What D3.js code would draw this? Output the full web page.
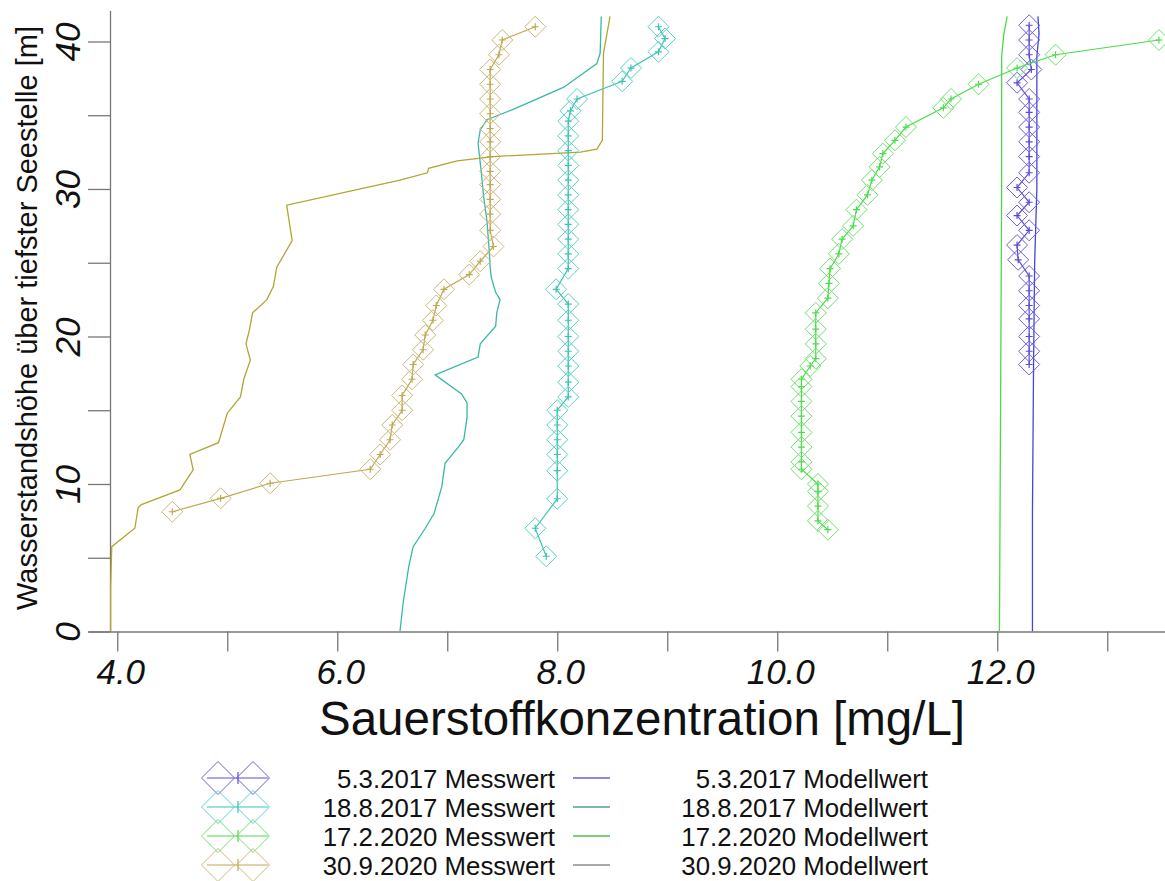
<!DOCTYPE html>
<html>
<head>
<meta charset="utf-8">
<script src="https://cdn.jsdelivr.net/npm/d3@7"></script>
<style>
  body { margin: 0; background: #fff; }
  text { font-family: "Liberation Sans", Arial, Helvetica, sans-serif; }
</style>
</head>
<body>
<svg id="chart" width="1165" height="881"></svg>
<script>
// ---- axis ticks ----
const xTicks = [4, 5, 6, 7, 8, 9, 10, 11, 12, 13];
const xTickLabels = ["4.0", "", "6.0", "", "8.0", "", "10.0", "", "12.0", ""];
const yTicks = [0, 5, 10, 15, 20, 25, 30, 35, 40];
const yTickLabels = ["0", "", "10", "", "20", "", "30", "", "40"];

// ---- series ----
const seriesDates = ["5.3.2017", "18.8.2017", "17.2.2020", "30.9.2020"];
const messColors  = ["#5a4ed8", "#3cc4b4", "#4cdc4c", "#c0a850"];
const markColors  = ["#6a5ee0", "#5cd0c6", "#6ee06e", "#cdb678"];
const modelColors = ["#4444e0", "#38b8a6", "#4cd84c", "#b0a632"];
const legendLineColors = ["#6a60d8", "#5a9c90", "#50c050", "#8c8c8c"];

// measured oxygen profiles (depth above deepest point [m], O2 [mg/L])
const mess0503Depth = [41.1, 40.1, 39.1, 38.1, 37.2, 36.1, 35.2, 34.2, 33.2, 32.2, 31.1, 30.1, 29.1, 28.2, 27.2, 26.2, 25.2, 24.1, 23.1, 22.1, 21.2, 20.0, 19.0, 18.1];
const mess0503O2    = [12.29, 12.29, 12.29, 12.31, 12.18, 12.29, 12.29, 12.29, 12.29, 12.29, 12.29, 12.18, 12.29, 12.18, 12.29, 12.18, 12.19, 12.29, 12.29, 12.29, 12.29, 12.29, 12.29, 12.29];

const mess1808Depth = [41.0, 40.2, 39.3, 38.2, 37.3, 36.1, 35.3, 34.6, 33.6, 32.6, 31.6, 30.6, 29.6, 28.6, 27.6, 26.6, 25.6, 24.6, 23.2, 22.2, 21.1, 20.0, 19.0, 18.0, 16.9, 15.9, 15.0, 14.0, 13.0, 12.0, 10.9, 9.0, 7.0, 5.1];
const mess1808O2    = [8.92, 8.98, 8.92, 8.67, 8.59, 8.18, 8.12, 8.10, 8.10, 8.10, 8.10, 8.10, 8.10, 8.10, 8.10, 8.10, 8.10, 8.10, 7.99, 8.10, 8.10, 8.10, 8.10, 8.10, 8.10, 8.10, 8.00, 8.00, 8.00, 8.00, 8.00, 8.00, 7.80, 7.90];

const mess1702Depth = [40.1, 39.1, 38.2, 37.1, 36.1, 35.5, 34.2, 33.3, 32.4, 31.5, 30.6, 29.6, 28.6, 27.5, 26.6, 25.6, 24.6, 23.6, 22.6, 21.6, 20.5, 19.5, 18.5, 18.0, 17.1, 16.6, 15.6, 14.6, 13.5, 12.5, 11.5, 11.0, 10.0, 9.5, 8.5, 7.5, 6.9];
const mess1702O2    = [13.47, 12.53, 12.18, 11.83, 11.58, 11.51, 11.17, 11.07, 10.96, 10.93, 10.86, 10.82, 10.72, 10.69, 10.59, 10.56, 10.48, 10.47, 10.46, 10.35, 10.35, 10.35, 10.35, 10.30, 10.22, 10.22, 10.22, 10.22, 10.22, 10.22, 10.22, 10.22, 10.37, 10.37, 10.37, 10.37, 10.46];

const mess3009Depth = [41.0, 40.1, 39.1, 38.1, 37.1, 36.1, 35.1, 34.1, 33.2, 32.2, 31.2, 30.3, 29.3, 28.3, 27.2, 26.1, 25.1, 24.2, 23.2, 22.1, 21.1, 20.1, 19.1, 18.1, 17.1, 16.0, 15.0, 14.0, 13.0, 12.0, 11.0, 10.05, 9.03, 8.12];
const mess3009O2    = [7.80, 7.50, 7.47, 7.39, 7.39, 7.39, 7.39, 7.39, 7.39, 7.39, 7.39, 7.39, 7.39, 7.39, 7.39, 7.42, 7.30, 7.20, 6.97, 6.90, 6.87, 6.80, 6.78, 6.69, 6.68, 6.59, 6.59, 6.50, 6.48, 6.39, 6.30, 5.39, 4.94, 4.50];

// modelled oxygen profiles
const model0503Depth = [0, 8, 18, 25, 30, 39, 40.5, 41.7];
const model0503O2    = [12.32, 12.32, 12.33, 12.34, 12.36, 12.36, 12.38, 12.37];

const model1808Depth = [0.0, 2.0, 4.4, 5.75, 7.0, 8.0, 9.8, 11.4, 12.5, 13.0, 14.5, 15.5, 16.1, 17.4, 18.6, 19.5, 20.7, 21.6, 22.5, 23.0, 24.0, 24.7, 26.0, 27.9, 29.5, 31.1, 33.1, 34.0, 34.7, 35.4, 36.9, 38.5, 39.2, 41.7];
const model1808O2    = [6.57, 6.60, 6.65, 6.69, 6.80, 6.88, 6.95, 6.98, 7.10, 7.15, 7.18, 7.18, 7.13, 6.89, 7.28, 7.30, 7.44, 7.45, 7.48, 7.44, 7.40, 7.39, 7.38, 7.36, 7.33, 7.31, 7.28, 7.30, 7.36, 7.60, 8.06, 8.36, 8.39, 8.40];

const model1702Depth = [0, 15, 30, 39, 40.5, 41.7];
const model1702O2    = [12.02, 12.03, 12.04, 12.04, 12.06, 12.09];

const model3009Depth = [0, 3, 5.75, 7.0, 8.4, 8.6, 9.6, 10.95, 12.0, 12.8, 14.8, 15.9, 17.1, 18.4, 19.5, 20.4, 21.6, 22.5, 23.4, 24.7, 26.5, 28.9, 30.6, 31.1, 31.4, 31.9, 32.2, 32.5, 32.7, 33.3, 39.2, 41.7];
const model3009O2    = [3.94, 3.94, 3.95, 4.16, 4.19, 4.22, 4.57, 4.69, 4.66, 4.92, 5.00, 5.12, 5.15, 5.21, 5.17, 5.20, 5.23, 5.36, 5.42, 5.45, 5.59, 5.54, 6.57, 6.82, 6.83, 7.09, 7.42, 8.21, 8.36, 8.41, 8.42, 8.48];

const zip = (o2, depth) => o2.map((v, i) => [v, depth[i]]);
const measured = [zip(mess0503O2, mess0503Depth), zip(mess1808O2, mess1808Depth), zip(mess1702O2, mess1702Depth), zip(mess3009O2, mess3009Depth)];
const modelled = [zip(model0503O2, model0503Depth), zip(model1808O2, model1808Depth), zip(model1702O2, model1702Depth), zip(model3009O2, model3009Depth)];

// ---- layout ----
const svg = d3.select("#chart");
svg.append("rect").attr("width", 1165).attr("height", 881).attr("fill", "#fff");

const x = d3.scaleLinear().domain([3.734, 13.525]).range([88, 1165]);
const y = d3.scaleLinear().domain([0, 42.1]).range([631.5, 10.5]);
const plotLeft = 110;

svg.append("clipPath").attr("id", "plotClip")
  .append("rect").attr("x", plotLeft).attr("y", y(42.1)).attr("width", 1165 - plotLeft).attr("height", y(0) - y(42.1));

// x axis
const gx = svg.append("g").attr("transform", `translate(0,${y(0)})`)
  .call(d3.axisBottom(x).tickValues(xTicks).tickSize(20).tickSizeOuter(0).tickFormat((d, i) => xTickLabels[i]));
gx.select(".domain").attr("stroke", "#777").attr("stroke-width", 1.3);
gx.selectAll(".tick line").attr("stroke", "#777").attr("stroke-width", 1.3);
gx.selectAll(".tick text").attr("y", 52.5).attr("dy", null).attr("dx", 3)
  .attr("font-size", 35).attr("font-style", "italic").attr("fill", "#111")
  .attr("font-family", "'Liberation Sans', Arial, sans-serif");

// y axis
const gy = svg.append("g").attr("transform", `translate(${plotLeft},0)`)
  .call(d3.axisLeft(y).tickValues(yTicks).tickSize(22).tickSizeOuter(0).tickFormat((d, i) => yTickLabels[i]));
gy.select(".domain").attr("stroke", "#777").attr("stroke-width", 1.3);
gy.selectAll(".tick line").attr("stroke", "#777").attr("stroke-width", 1.3);
gy.selectAll(".tick text").attr("x", null).attr("dy", null)
  .attr("transform", "translate(-30,0) rotate(-90)").attr("text-anchor", "middle")
  .attr("font-size", 35).attr("font-style", "italic").attr("fill", "#111")
  .attr("font-family", "'Liberation Sans', Arial, sans-serif");

// axis titles
svg.append("text").attr("x", 642).attr("y", 735).attr("text-anchor", "middle")
  .attr("font-size", 47.5).attr("fill", "#111").text("Sauerstoffkonzentration [mg/L]");
svg.append("text").attr("transform", "translate(37,318) rotate(-90)").attr("text-anchor", "middle")
  .attr("font-size", 29).attr("fill", "#111").text("Wasserstandshöhe über tiefster Seestelle [m]");

// ---- data ----
const plot = svg.append("g").attr("clip-path", "url(#plotClip)");
const line = d3.line().x(d => x(d[0])).y(d => y(d[1]));

const diamond = r => `M0,${-r}L${r},0L0,${r}L${-r},0Z`;
const cross = r => `M${-r},0H${r}M0,${-r}V${r}`;

// model profiles
modelled.forEach((pts, i) => {
  plot.append("path").datum(pts).attr("d", line)
    .attr("fill", "none").attr("stroke", modelColors[i]).attr("stroke-width", 1.3);
});

// measured profiles with diamond-plus markers
measured.forEach((pts, i) => {
  const g = plot.append("g");
  g.append("path").datum(pts).attr("d", line)
    .attr("fill", "none").attr("stroke", messColors[i]).attr("stroke-width", 1.2);
  const m = g.selectAll("g.pt").data(pts).join("g").attr("class", "pt")
    .attr("transform", d => `translate(${x(d[0])},${y(d[1])})`);
  m.append("path").attr("d", diamond(10.5)).attr("fill", "none")
    .attr("stroke", markColors[i]).attr("stroke-width", 1);
  m.append("path").attr("d", cross(3.5)).attr("fill", "none")
    .attr("stroke", messColors[i]).attr("stroke-width", 1.2);
});

// ---- legend ----
const legendRows = [778, 807, 836, 865];
const leg = svg.append("g");
seriesDates.forEach((date, i) => {
  const ly = legendRows[i];
  // measured entry
  leg.append("line").attr("x1", 207).attr("x2", 268).attr("y1", ly).attr("y2", ly)
    .attr("stroke", messColors[i]).attr("stroke-width", 1.2);
  leg.append("line").attr("x1", 238).attr("x2", 238).attr("y1", ly - 6).attr("y2", ly + 6)
    .attr("stroke", messColors[i]).attr("stroke-width", 1.2);
  [218, 253].forEach(cx => {
    leg.append("path").attr("transform", `translate(${cx},${ly})`).attr("d", diamond(16.5))
      .attr("fill", "none").attr("stroke", markColors[i]).attr("stroke-width", 1);
  });
  leg.append("text").attr("x", 555).attr("y", ly + 9.5).attr("text-anchor", "end")
    .attr("font-size", 25.8).attr("fill", "#111").text(`${date} Messwert`);
  // model entry
  leg.append("line").attr("x1", 573).attr("x2", 610).attr("y1", ly).attr("y2", ly)
    .attr("stroke", legendLineColors[i]).attr("stroke-width", 1.5);
  leg.append("text").attr("x", 928).attr("y", ly + 9.5).attr("text-anchor", "end")
    .attr("font-size", 25.8).attr("fill", "#111").text(`${date} Modellwert`);
});
</script>
</body>
</html>
